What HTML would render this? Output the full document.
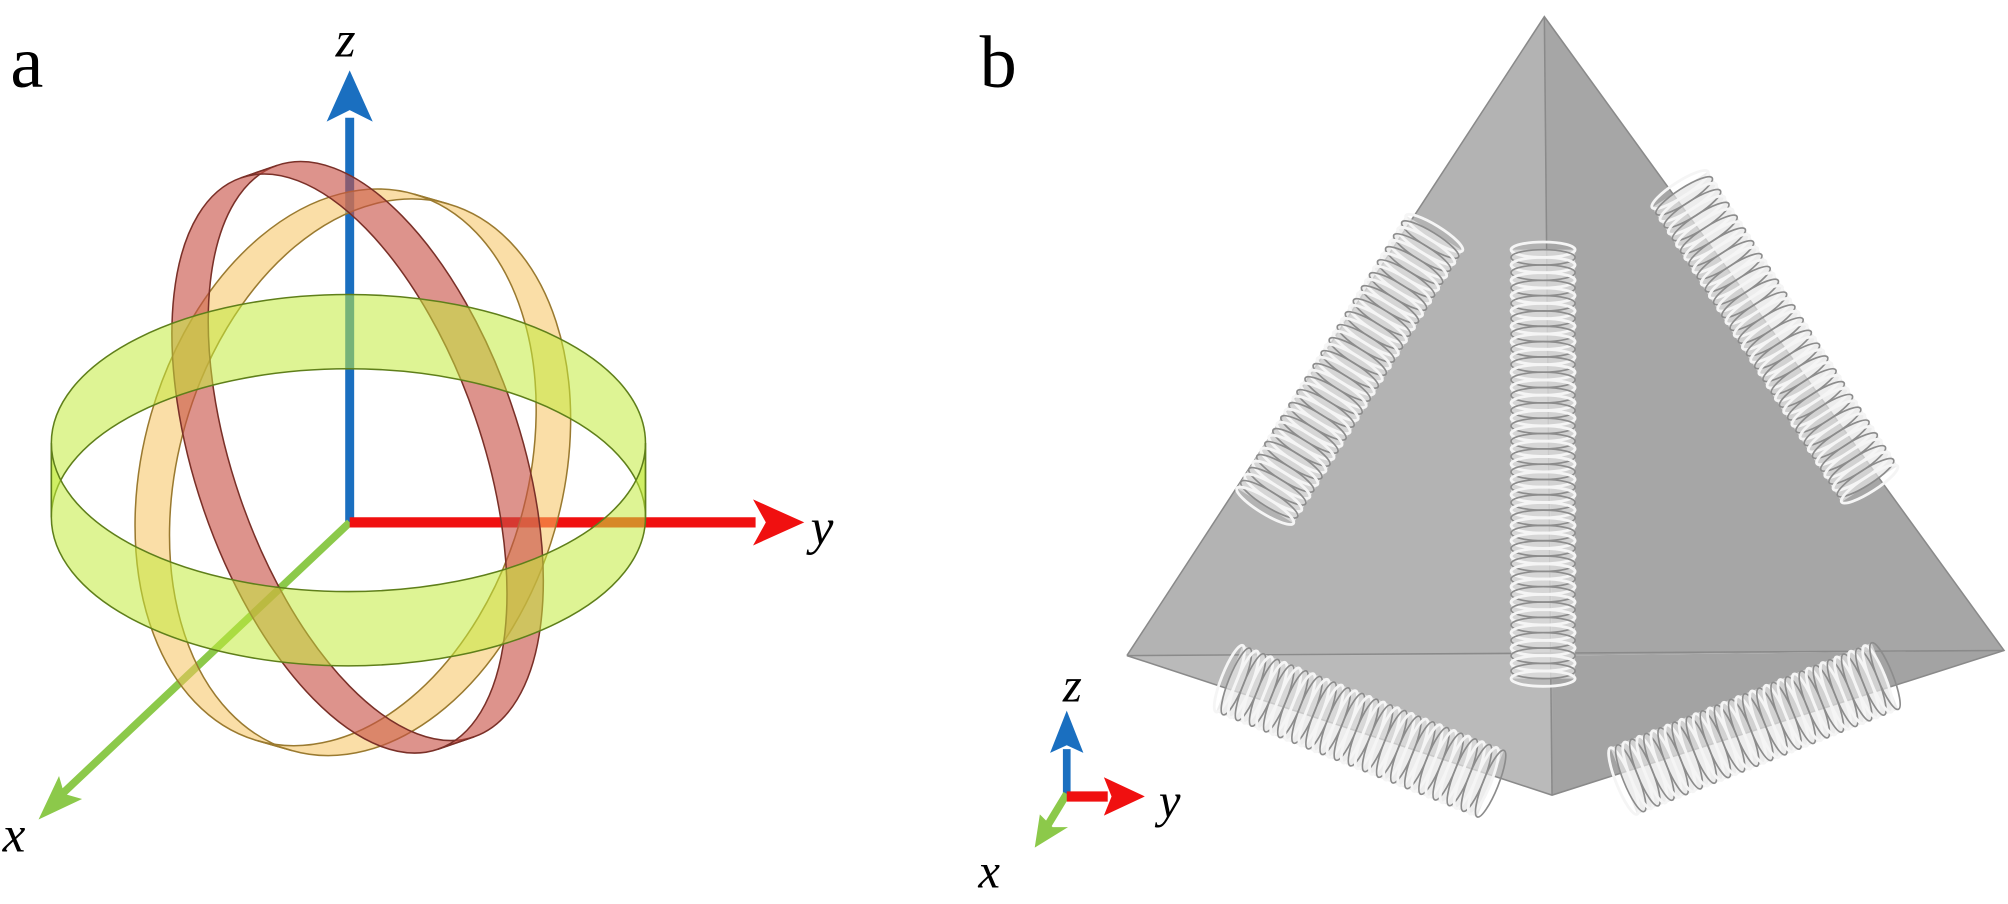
<!DOCTYPE html>
<html><head><meta charset="utf-8">
<style>
html,body{margin:0;padding:0;background:#fff;}
svg{display:block;}
text{font-family:"Liberation Serif",serif;}
</style></head>
<body>
<svg id="s" width="2008" height="904" viewBox="0 0 1568 706" xmlns="http://www.w3.org/2000/svg">
<rect width="1568" height="706" fill="#fff"/>
<!-- panel a -->
<text x="8" y="68" font-size="58">a</text>
<g stroke-linecap="butt">
  <line x1="273" y1="408" x2="273" y2="92" stroke="#1a6fc0" stroke-width="7"/>
  <polygon points="273,55 255,95 273,86 291,95" fill="#1a6fc0"/>
  <line x1="273" y1="408" x2="40" y2="628" stroke="#8cc94a" stroke-width="6"/>
  <polygon points="30,640 46,606 50,620 64,624" fill="#8cc94a"/>
  <line x1="273" y1="408" x2="590" y2="408" stroke="#f01010" stroke-width="8"/>
  <polygon points="628,408 588,390 598,408 588,426" fill="#f01010"/>
</g>
<text x="262" y="44" font-size="40" font-style="italic">z</text>
<text x="633" y="425" font-size="40" font-style="italic">y</text>
<text x="2" y="665" font-size="40" font-style="italic">x</text>

<!-- yellow ring -->
<g transform="translate(262,365) rotate(16)" stroke="#9a7a30" stroke-width="1.2" fill="rgba(245,195,95,0.55)">
  <path d="M0,-222 A150,222 0 0 0 0,222 L28,222 A150,222 0 0 1 28,-222 Z"/>
  <path d="M0,-222 A150,222 0 0 1 0,222 L28,222 A150,222 0 0 0 28,-222 Z"/>
</g>
<!-- red ring -->
<g transform="translate(265,362) rotate(-19)" stroke="#7a3028" stroke-width="1.2" fill="rgba(200,80,70,0.62)">
  <path d="M0,-236 A112,236 0 0 0 0,236 L30,236 A112,236 0 0 1 30,-236 Z"/>
  <path d="M0,-236 A112,236 0 0 1 0,236 L30,236 A112,236 0 0 0 30,-236 Z"/>
</g>
<!-- green ring -->
<g stroke="#5f7f1a" stroke-width="1.2" fill="rgba(195,235,60,0.55)">
  <path d="M40,346 A232,116 0 0 1 504,346 L504,404 A232,116 0 0 0 40,404 Z"/>
  <path d="M40,346 A232,116 0 0 0 504,346 L504,404 A232,116 0 0 1 40,404 Z"/>
</g>

<!-- panel b -->
<text x="765" y="68" font-size="58">b</text>
<polygon points="1206,13 880,512 1212,512" fill="#b3b3b3"/>
<polygon points="1206,13 1212,512 1565,508" fill="#a6a6a6"/>
<polygon points="880,512 1212,512 1212,621" fill="#bababa"/>
<polygon points="1212,512 1565,508 1212,621" fill="#a3a3a3"/>
<g stroke="#8a8a8a" stroke-width="1.2" fill="none">
  <polyline points="880,512 1206,13 1565,508 1212,621 880,512"/>
  <line x1="1206" y1="13" x2="1212" y2="621"/>
  <line x1="880" y1="512" x2="1565" y2="508"/>
</g>
<g id="springs"></g>

<!-- small axes -->
<line x1="833" y1="620" x2="833" y2="585" stroke="#1a6fc0" stroke-width="6"/>
<polygon points="833,555 820,588 833,582 846,588" fill="#1a6fc0"/>
<line x1="833" y1="620" x2="816" y2="648" stroke="#8cc94a" stroke-width="6"/>
<polygon points="808,662 812,636 822,646 834,646" fill="#8cc94a"/>
<line x1="833" y1="622" x2="865" y2="622" stroke="#f01010" stroke-width="8"/>
<polygon points="894,622 862,607 868,622 862,637" fill="#f01010"/>
<text x="830" y="548" font-size="38" font-style="italic">z</text>
<text x="905" y="638" font-size="38" font-style="italic">y</text>
<text x="764" y="693" font-size="38" font-style="italic">x</text>
</svg>
<script>
(function(){
var g=document.getElementById('springs'),ns='http://www.w3.org/2000/svg';
var sp=[[1120,182,988,395,26],[1205,195,1205,530,25],[1312,148,1460,378,26],[960,530,1164,612,28],[1268,610,1472,528,28]];
sp.forEach(function(s){
 var dx=s[2]-s[0],dy=s[3]-s[1],L=Math.sqrt(dx*dx+dy*dy),a=Math.atan2(dy,dx)*180/Math.PI;
 var grp=document.createElementNS(ns,'g');
 grp.setAttribute('transform','translate('+s[0]+','+s[1]+') rotate('+a+')');
 var bg=document.createElementNS(ns,'rect');
 bg.setAttribute('x',0);bg.setAttribute('y',-s[4]);bg.setAttribute('width',L);bg.setAttribute('height',2*s[4]);
 bg.setAttribute('fill','rgba(230,230,230,0.7)');grp.appendChild(bg);
 var n=Math.round(L/6);
 for(var i=0;i<=n;i++){
  var e=document.createElementNS(ns,'ellipse');
  e.setAttribute('cx',(L*i/n).toFixed(1));e.setAttribute('cy',0);
  e.setAttribute('rx',6);e.setAttribute('ry',s[4]);
  e.setAttribute('fill','none');e.setAttribute('stroke',i%2?'#8c8c8c':'#f5f5f5');e.setAttribute('stroke-width',i%2?1.3:2.2);
  grp.appendChild(e);
 }
 g.appendChild(grp);
});
})();
</script>
</body></html>
